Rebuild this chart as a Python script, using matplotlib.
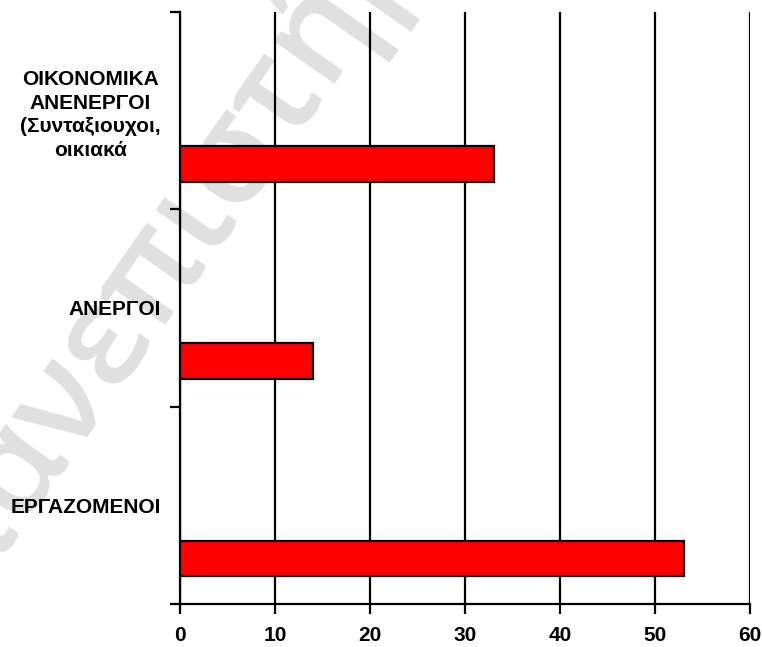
import matplotlib
matplotlib.use("Agg")
import matplotlib.pyplot as plt

# data
categories = ["ΕΡΓΑΖΟΜΕΝΟΙ", "ΑΝΕΡΓΟΙ",
              "ΟΙΚΟΝΟΜΙΚΑ\nΑΝΕΝΕΡΓΟΙ\n(Συνταξιουχοι,\nοικιακά"]
values = [53, 14, 33]
xticks = [0, 10, 20, 30, 40, 50, 60]

plt.rcParams['font.family'] = ['Liberation Sans', 'DejaVu Sans']
plt.rcParams['font.weight'] = 'bold'

fig = plt.figure(figsize=(7.62, 6.47), dpi=100)

# watermark sits on its own axes behind the chart
bg = fig.add_axes([0, 0, 1, 1], zorder=-1)
bg.axis('off')
bg.text(0.27, 0.69, "πανεπιστήμιο", rotation=55, fontsize=98,
        color='#e0e0e0', ha='center', va='center', fontweight=600,
        family=['Open Sans', 'DejaVu Sans'], rotation_mode='anchor')

ax = fig.add_axes([0.2362, 0.0665, 0.7481, 0.915])
ax.patch.set_alpha(0)

pos = list(range(len(categories)))
ax.barh([p - 0.27 for p in pos], values, height=0.18, color='#ff0000',
        edgecolor='black', linewidth=1.6, zorder=3)

ax.set_xlim(0, 60)
ax.set_ylim(-0.5, 2.5)
ax.set_xticks(xticks)
ax.set_xticklabels([str(t) for t in xticks], fontsize=15, fontweight='bold')
ax.xaxis.grid(True, color='black', linewidth=1.6, zorder=1)
ax.set_axisbelow(True)

# ticks at category boundaries, labels at centres
ax.set_yticks([-0.5, 0.5, 1.5, 2.5])
ax.set_yticklabels([])
ax.set_yticks(pos, minor=True)
ax.set_yticklabels(categories, minor=True, fontsize=15, fontweight='bold')
for lab in ax.get_yticklabels(minor=True):
    lab.set_multialignment('center')
    lab.set_linespacing(1.3)
ax.tick_params(axis='y', which='minor', length=0, pad=14)
ax.tick_params(axis='y', which='major', length=7, width=1.6, direction='out')
ax.tick_params(axis='x', length=7, width=1.6, direction='out', pad=9)

for s in ['top', 'right']:
    ax.spines[s].set_visible(False)
for s in ['left', 'bottom']:
    ax.spines[s].set_linewidth(1.6)

plt.savefig("out.png", dpi=100)
